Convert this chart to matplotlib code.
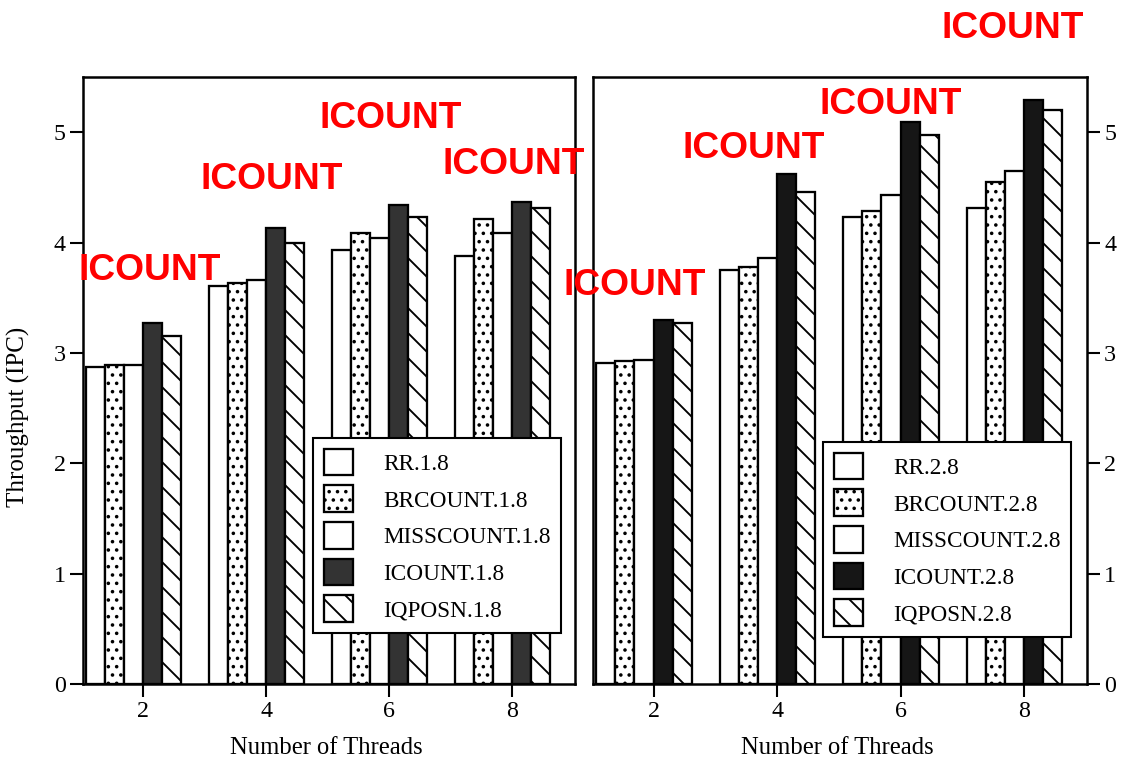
import matplotlib
matplotlib.use('Agg')
import matplotlib.pyplot as plt
import numpy as np

plt.rcParams['font.family'] = 'Liberation Serif'
plt.rcParams['hatch.linewidth'] = 0.9

threads = [2, 4, 6, 8]
policies = ['RR', 'BRCOUNT', 'MISSCOUNT', 'ICOUNT', 'IQPOSN']

# throughput (IPC), 1.8 fetch
rr_18 = [2.87, 3.61, 3.93, 3.88]
brcount_18 = [2.89, 3.63, 4.09, 4.21]
misscount_18 = [2.89, 3.66, 4.04, 4.09]
icount_18 = [3.27, 4.13, 4.34, 4.37]
iqposn_18 = [3.15, 4.00, 4.23, 4.31]

# throughput (IPC), 2.8 fetch
rr_28 = [2.91, 3.75, 4.23, 4.31]
brcount_28 = [2.93, 3.78, 4.29, 4.55]
misscount_28 = [2.94, 3.86, 4.43, 4.65]
icount_28 = [3.30, 4.62, 5.09, 5.29]
iqposn_28 = [3.27, 4.46, 4.97, 5.20]

# where the red ICOUNT notes sit (thread axis, IPC axis)
note_xy_18 = [(2.11, 3.75), (4.08, 4.57), (6.03, 5.12), (8.02, 4.71)]
note_xy_28 = [(1.69, 3.61), (3.62, 4.85), (5.84, 5.25), (7.82, 5.94)]

dpi = 150
fig = plt.figure(figsize=(1136 / dpi, 760 / dpi), dpi=dpi)
ax1 = fig.add_axes([0.0731, 0.1, 0.4331, 0.7987])
ax2 = fig.add_axes([0.522, 0.1, 0.4349, 0.7987])

w = 0.31


def draw_panel(ax, series, suffix, dark, notes, leg_anchor):
    styles = [
        dict(color='white', hatch=None),
        dict(color='white', hatch='...'),
        dict(color='white', hatch=None),
        dict(color=dark, hatch=None),
        dict(color='white', hatch='\\\\'),
    ]
    x = np.array(threads, dtype=float)
    for i, (vals, st) in enumerate(zip(series, styles)):
        ax.bar(x + (i - 3) * w, vals, width=w, align='edge',
               facecolor=st['color'], edgecolor='black', linewidth=1.1,
               hatch=st['hatch'], label=policies[i] + suffix, zorder=2)
    for (nx, ny) in notes:
        ax.text(nx, ny, 'ICOUNT', color='#ff0000', fontsize=17.8,
                fontweight='bold', family='Liberation Sans',
                ha='center', va='center', clip_on=False, zorder=10)
    ax.set_xlim(1.02, 9.02)
    ax.set_ylim(0, 5.5)
    ax.set_xticks(threads)
    ax.set_yticks([0, 1, 2, 3, 4, 5])
    ax.tick_params(direction='out', length=6.2, width=1.0, labelsize=11.5,
                   pad=2)
    for sp in ax.spines.values():
        sp.set_linewidth(1.2)
    ax.set_xlabel('Number of Threads', fontsize=11.8)
    ax.xaxis.set_label_coords(0.494, -0.087)
    leg = ax.legend(loc='upper left', bbox_to_anchor=leg_anchor,
                    bbox_transform=fig.transFigure, borderaxespad=0,
                    fontsize=11.2, handlelength=1.24, handleheight=1.37,
                    labelspacing=0.43, handletextpad=1.29, borderpad=0.47,
                    fancybox=False, framealpha=1, edgecolor='black')
    leg.get_frame().set_linewidth(1.0)
    leg.set_zorder(5)


draw_panel(ax1, [rr_18, brcount_18, misscount_18, icount_18, iqposn_18],
           '.1.8', '#333333', note_xy_18, (313 / 1136, 1 - 438 / 760))
ax1.set_ylabel('Throughput (IPC)', fontsize=12.0)
ax1.yaxis.set_label_coords(-0.108, 0.44)

draw_panel(ax2, [rr_28, brcount_28, misscount_28, icount_28, iqposn_28],
           '.2.8', '#161616', note_xy_28, (823 / 1136, 1 - 442 / 760))
ax2.yaxis.tick_right()

fig.savefig('out.png', dpi=dpi, facecolor='white')
